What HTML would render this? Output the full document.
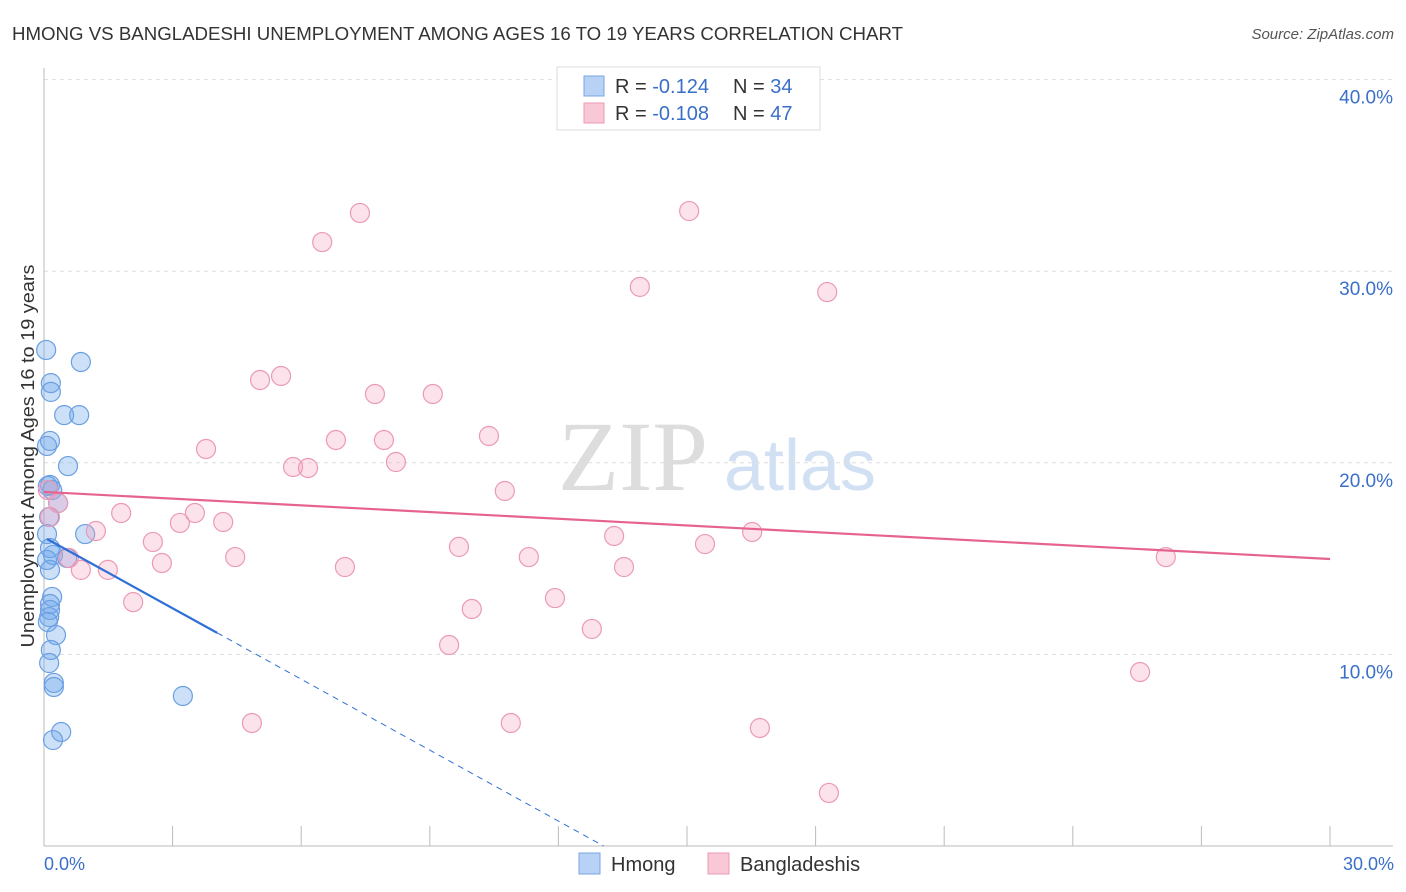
<!DOCTYPE html>
<html><head><meta charset="utf-8"><style>
body{margin:0;background:#fff;font-family:"Liberation Sans",sans-serif;}
svg{display:block}
</style></head><body>
<svg id="chart" width="1406" height="892">
<text x="12" y="40" font-size="18" fill="#333" textLength="891" lengthAdjust="spacingAndGlyphs">HMONG VS BANGLADESHI UNEMPLOYMENT AMONG AGES 16 TO 19 YEARS CORRELATION CHART</text>
<text x="1394" y="39" font-size="15" fill="#555" font-style="italic" text-anchor="end">Source: ZipAtlas.com</text>
<g>
<text x="633" y="490" font-size="100" fill="#ddd" font-family="Liberation Serif,serif" text-anchor="middle">ZIP</text>
<text x="800" y="490" font-size="72" fill="#d2e0f3" text-anchor="middle">atlas</text>
</g>
<g id="grid"></g>
<g id="axes"></g>
<g id="marks"></g>
<text transform="translate(34,456) rotate(-90)" font-size="18" fill="#333" text-anchor="middle" textLength="383" lengthAdjust="spacingAndGlyphs">Unemployment Among Ages 16 to 19 years</text>
<text x="44" y="870" font-size="18" fill="#3a6fc9">0.0%</text>
<text x="1394" y="870" font-size="18" fill="#3a6fc9" text-anchor="end">30.0%</text>
<g>
<rect x="557" y="67" width="263" height="63" fill="#fff" stroke="#ddd"/>
<rect x="584" y="76" width="20" height="20" fill="#b7d2f4" stroke="#7aa6e0"/>
<rect x="584" y="103" width="20" height="20" fill="#f9c8d6" stroke="#ec9ab4"/>
<text x="615" y="93" font-size="20" fill="#333">R = <tspan fill="#3a6fc9">-0.124</tspan><tspan x="733">N = </tspan><tspan fill="#3a6fc9">34</tspan></text>
<text x="615" y="120" font-size="20" fill="#333">R = <tspan fill="#3a6fc9">-0.108</tspan><tspan x="733">N = </tspan><tspan fill="#3a6fc9">47</tspan></text>
</g>
<g>
<rect x="579" y="853" width="21" height="21" fill="#b7d2f4" stroke="#7aa6e0"/>
<text x="611" y="871" font-size="20" fill="#333">Hmong</text>
<rect x="708" y="853" width="21" height="21" fill="#f9c8d6" stroke="#ec9ab4"/>
<text x="740" y="871" font-size="20" fill="#333">Bangladeshis</text>
</g>
</svg>
<script>
const yTicks=[10,20,30,40];
const yTickLabels=["10.0%","20.0%","30.0%","40.0%"];
const xTicks=[0,3,6,9,12,15,18,21,24,27,30];
const hmongX=[.05,.86,.16,.16,.47,.82,.14,.07,.56,.14,.19,.33,.12,.96,.07,.14,.21,.54,.14,.19,.14,.14,.12,.09,.28,.16,.12,.23,.23,3.24,.40,.21,.09,.07];
const hmongY=[25.89,25.26,24.16,23.70,22.49,22.49,21.14,20.88,19.83,18.84,18.58,17.90,17.17,16.28,16.28,15.55,15.19,15.03,14.41,13.00,12.63,12.32,11.95,11.69,11.01,10.23,9.55,8.51,8.30,7.83,5.95,5.53,18.79,14.93];
const bangX=[.09,.33,.14,.86,1.49,1.21,1.80,2.08,2.54,2.75,3.17,3.52,3.78,4.18,4.46,4.85,5.04,5.53,5.81,6.16,6.49,6.81,7.02,7.37,7.72,7.93,8.21,9.07,9.45,9.68,9.98,10.38,10.75,10.89,11.31,11.92,12.78,13.30,13.53,13.90,15.05,15.42,16.52,16.70,18.27,18.31,25.57,26.17,.58];
const bangY=[18.58,17.90,17.17,14.41,14.41,16.44,17.38,12.73,15.87,14.77,16.86,17.38,20.72,16.91,15.08,6.42,24.32,24.53,19.78,19.73,31.52,21.19,14.56,33.04,23.59,21.19,20.04,23.59,10.49,15.61,12.37,21.40,18.53,6.42,15.08,12.94,11.33,16.18,14.56,29.18,33.14,15.76,16.39,6.16,28.91,2.77,9.08,15.08,15.03];
const hmongTrend=[16.11,-1.234];
const bangTrend=[18.48,-0.1167];
const X=v=>44+v/30*1286, Y=v=>846-v*19.16;
const NS="http://www.w3.org/2000/svg";
function mk(parent,tag,attrs){const e=document.createElementNS(NS,tag);for(const k in attrs)e.setAttribute(k,attrs[k]);document.getElementById(parent).appendChild(e);return e;}
yTicks.forEach((t,i)=>{
 const l=mk('grid','line',{x1:44,x2:1393,y1:Y(t),y2:Y(t),stroke:'#ddd','stroke-dasharray':'4,4'});
 
 
 const tx=mk('grid','text',{x:1393,y:Y(t)+24,'font-size':19,fill:'#3a6fc9','text-anchor':'end'});
 tx.textContent=yTickLabels[i];
 
 
});
let a=mk('axes','line',{x1:44,x2:44,y1:68,y2:846,stroke:'#bbb'});


a=mk('axes','line',{x1:44,x2:1393,y1:846,y2:846,stroke:'#bbb'});


xTicks.forEach(t=>{
 const l=mk('axes','line',{x1:X(t),x2:X(t),y1:826,y2:846,stroke:'#bbb'});
 
 
});
hmongX.forEach((x,i)=>{
 const c=mk('marks','circle',{cx:X(x),cy:Y(hmongY[i]),r:9.5,fill:'rgba(110,165,235,0.35)',stroke:'#6b9fe2','stroke-width':1.2});
 
 
});
bangX.forEach((x,i)=>{
 const c=mk('marks','circle',{cx:X(x),cy:Y(bangY[i]),r:9.5,fill:'rgba(245,160,190,0.3)',stroke:'#eb9ab5','stroke-width':1.2});
 
 
});
let t=mk('marks','line',{x1:X(0),y1:Y(bangTrend[0]),x2:X(30),y2:Y(bangTrend[0]+bangTrend[1]*30),stroke:'#e5638e','stroke-width':2.2});


const hx0=0.07,hx1=4.04,hxz=-hmongTrend[0]/hmongTrend[1];
t=mk('marks','line',{x1:X(hx0),y1:Y(hmongTrend[0]+hmongTrend[1]*hx0),x2:X(hx1),y2:Y(hmongTrend[0]+hmongTrend[1]*hx1),stroke:'#2f6fd6','stroke-width':2.2});


t=mk('marks','line',{x1:X(hx1),y1:Y(hmongTrend[0]+hmongTrend[1]*hx1),x2:X(hxz),y2:Y(0),stroke:'#2f6fd6','stroke-width':1,'stroke-dasharray':'6,5'});


</script>
</body></html>
